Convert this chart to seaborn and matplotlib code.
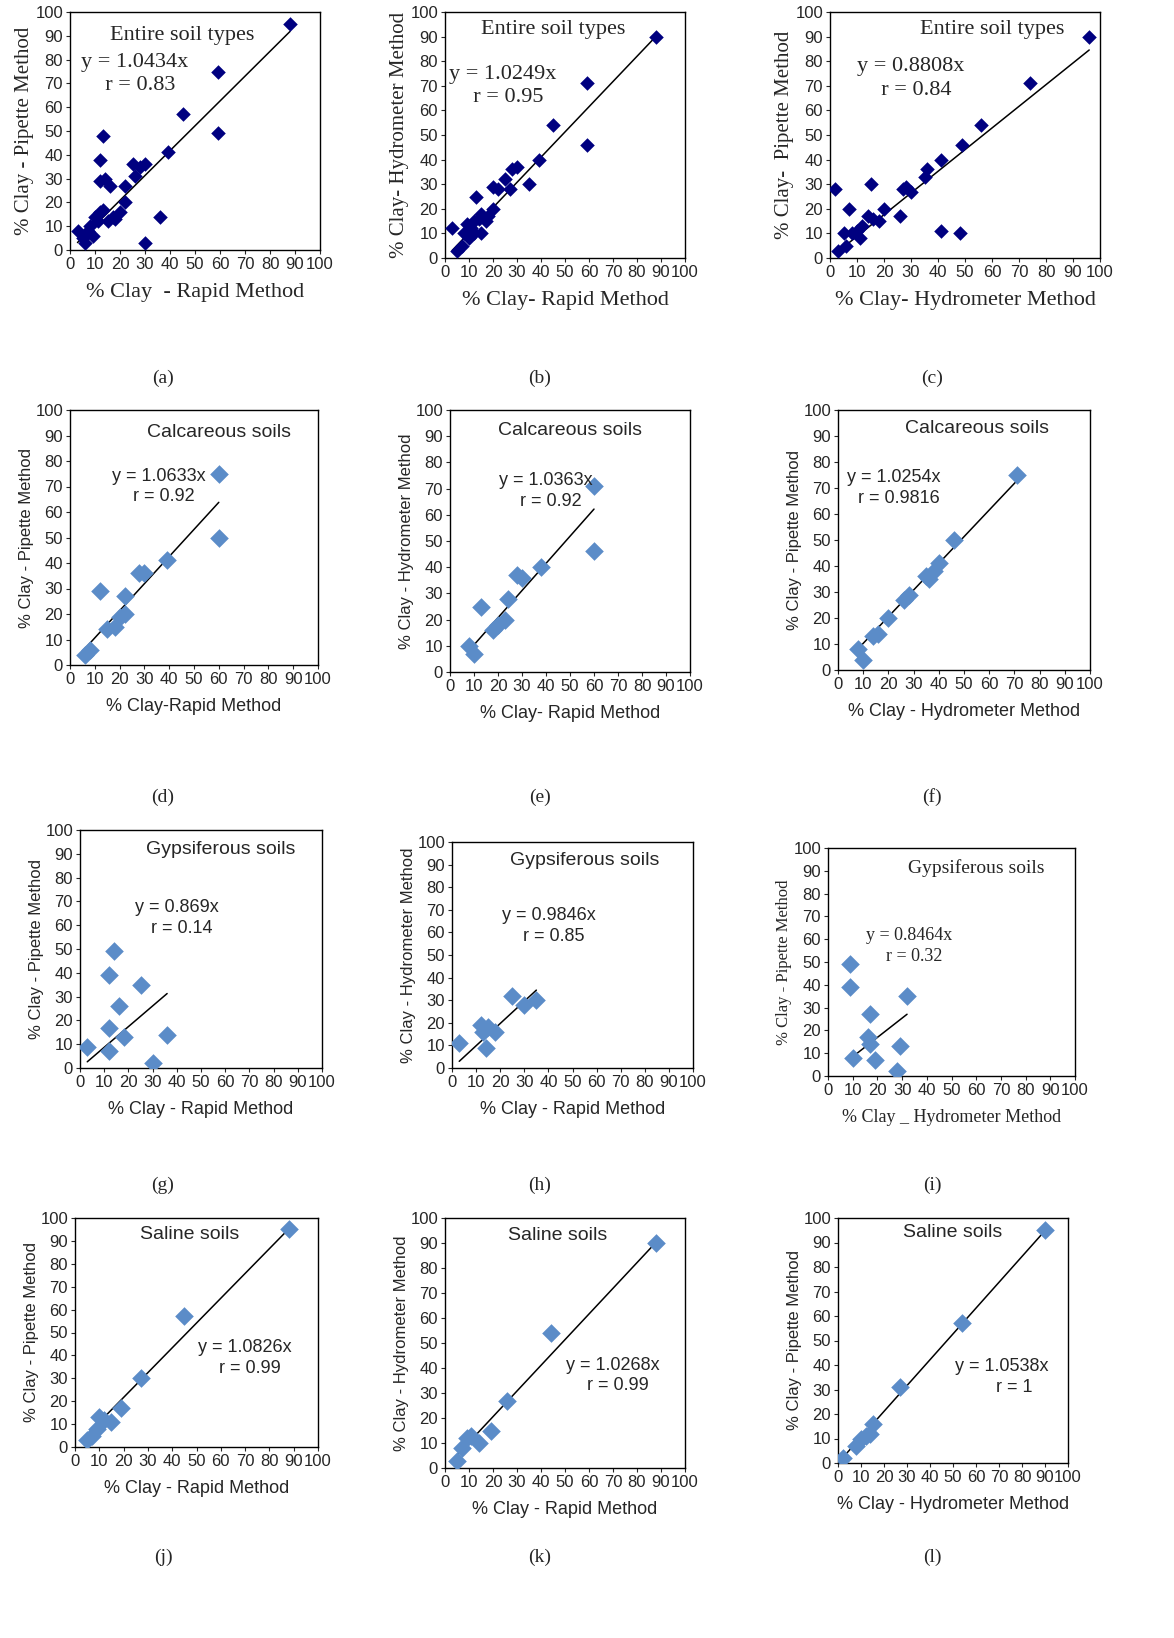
import numpy as np
import seaborn as sns
import matplotlib.pyplot as plt

sns.set_style("white")

# ---- data ----
x_a = [88, 59, 59, 45, 39, 36, 30, 30, 28, 25, 26, 22, 22, 20, 17, 16, 13, 12, 12, 13, 11, 10, 8, 7, 5, 3, 15, 18, 14, 9, 6, 12]
y_a = [95, 75, 49, 57, 41, 14, 3, 36, 35, 36, 31, 27, 20, 16, 14, 27, 48, 38, 29, 17, 12, 14, 10, 8, 5, 8, 12, 13, 30, 6, 3, 16]
x_b = [88, 59, 59, 45, 39, 35, 30, 28, 27, 25, 22, 20, 17, 15, 13, 12, 11, 10, 8, 7, 5, 3, 15, 18, 12, 9, 14, 20]
y_b = [90, 71, 46, 54, 40, 30, 37, 36, 28, 32, 28, 20, 15, 18, 25, 10, 12, 8, 10, 5, 3, 12, 10, 17, 15, 14, 16, 29]
x_c = [96, 74, 56, 49, 48, 41, 41, 36, 35, 30, 28, 27, 26, 20, 15, 16, 14, 12, 10, 8, 7, 5, 2, 3, 18, 11, 6]
y_c = [90, 71, 54, 46, 10, 40, 11, 36, 33, 27, 29, 28, 17, 20, 30, 16, 17, 13, 11, 10, 20, 10, 28, 3, 15, 8, 5]
x_d = [60, 60, 39, 30, 28, 22, 22, 18, 15, 12, 8, 6, 20]
y_d = [75, 50, 41, 36, 36, 27, 20, 15, 14, 29, 6, 4, 19]
x_e = [60, 60, 38, 30, 28, 24, 23, 18, 13, 10, 8, 20]
y_e = [71, 46, 40, 36, 37, 28, 20, 16, 25, 7, 10, 18]
x_f = [71, 46, 40, 38, 36, 28, 26, 20, 16, 14, 8, 10, 35]
y_f = [75, 50, 41, 38, 35, 29, 27, 20, 14, 13, 8, 4, 36]
x_g = [3, 12, 12, 12, 14, 16, 18, 25, 30, 36]
y_g = [9, 7, 17, 39, 49, 26, 13, 35, 2, 14]
x_h = [3, 12, 13, 14, 15, 18, 25, 30, 35]
y_h = [11, 19, 16, 9, 18, 16, 32, 28, 30]
x_i = [9, 9, 10, 16, 17, 17, 19, 29, 28, 32]
y_i = [49, 39, 8, 17, 27, 14, 7, 13, 2, 35]
x_j = [88, 45, 27, 19, 15, 10, 9, 7, 5, 12]
y_j = [95, 57, 30, 17, 11, 13, 8, 5, 3, 12]
x_k = [88, 44, 26, 19, 14, 11, 9, 7, 5]
y_k = [90, 54, 27, 15, 10, 13, 12, 8, 3]
x_l = [90, 54, 27, 15, 14, 10, 8, 2, 12]
y_l = [95, 57, 31, 16, 12, 10, 7, 2, 11]

slopes = [1.0434, 1.0249, 0.8808, 1.0633, 1.0363, 1.0254, 0.869, 0.9846, 0.8464, 1.0826, 1.0268, 1.0538]
eq_text = ["y = 1.0434x\n  r = 0.83", "y = 1.0249x\n  r = 0.95", "y = 0.8808x\n  r = 0.84",
           "y = 1.0633x\n  r = 0.92", "y = 1.0363x\n  r = 0.92", "y = 1.0254x\n  r = 0.9816",
           "y = 0.869x\n  r = 0.14", "y = 0.9846x\n  r = 0.85", "y = 0.8464x\n  r = 0.32",
           "y = 1.0826x\n  r = 0.99", "y = 1.0268x\n  r = 0.99", "y = 1.0538x\n     r = 1"]
titles = ["Entire soil types"] * 3 + ["Calcareous soils"] * 3 + ["Gypsiferous soils"] * 3 + ["Saline soils"] * 3
xlabels = ["% Clay  - Rapid Method", "% Clay- Rapid Method", "% Clay- Hydrometer Method",
           "% Clay-Rapid Method", "% Clay- Rapid Method", "% Clay - Hydrometer Method",
           "% Clay - Rapid Method", "% Clay - Rapid Method", "% Clay _ Hydrometer Method",
           "% Clay - Rapid Method", "% Clay - Rapid Method", "% Clay - Hydrometer Method"]
ylabels = ["% Clay - Pipette Method", "% Clay- Hydrometer Method", "% Clay-  Pipette Method",
           "% Clay - Pipette Method", "% Clay - Hydrometer Method", "% Clay - Pipette Method",
           "% Clay - Pipette Method", "% Clay - Hydrometer Method", "% Clay - Pipette Method",
           "% Clay - Pipette Method", "% Clay - Hydrometer Method", "% Clay - Pipette Method"]
letters = ["(a)", "(b)", "(c)", "(d)", "(e)", "(f)", "(g)", "(h)", "(i)", "(j)", "(k)", "(l)"]
xs = [x_a, x_b, x_c, x_d, x_e, x_f, x_g, x_h, x_i, x_j, x_k, x_l]
ys = [y_a, y_b, y_c, y_d, y_e, y_f, y_g, y_h, y_i, y_j, y_k, y_l]

# pixel boxes (x0, y0, x1, y1), title pos, eq pos, letter pos
boxes = [(70, 12, 320, 250), (445, 12, 685, 258), (830, 12, 1100, 258),
         (70, 410, 318, 665), (450, 410, 690, 672), (838, 410, 1090, 670),
         (80, 830, 322, 1068), (452, 842, 693, 1068), (828, 848, 1075, 1076),
         (75, 1218, 318, 1447), (445, 1218, 685, 1468), (838, 1218, 1068, 1463)]
title_pos = [(45, 90), (45, 93), (60, 93), (60, 91), (50, 92), (55, 93), (58, 92), (55, 92), (60, 91),
             (47, 93), (47, 93), (50, 94)]
eq_pos = [(26, 74), (24, 70), (30, 73), (36, 70), (40, 69), (22, 70), (40, 63), (40, 63), (33, 57),
          (70, 39), (70, 37), (71, 35)]
letter_x = [163, 540, 932, 163, 540, 932, 163, 540, 932, 163, 540, 932]
letter_y = [378, 378, 378, 797, 797, 797, 1185, 1185, 1185, 1557, 1557, 1557]
serif = [True, True, True, False, False, False, False, False, True, False, False, False]

W, H = 1174, 1638
fig = plt.figure(figsize=(W / 100, H / 100), dpi=100)

for i in range(12):
    x0, y0, x1, y1 = boxes[i]
    ax = fig.add_axes([x0 / W, 1 - y1 / H, (x1 - x0) / W, (y1 - y0) / H])
    color = "#000080" if i < 3 else "#5B8CC8"
    sns.scatterplot(x=xs[i], y=ys[i], ax=ax, marker="D", s=90 if i >= 3 else 55,
                    color=color, edgecolor=color, linewidth=0, zorder=3)
    xx = np.array([min(xs[i]), max(xs[i])])
    ax.plot(xx, slopes[i] * xx, color="black", lw=1.1, zorder=2)
    ax.set_xlim(0, 100)
    ax.set_ylim(0, 100)
    ax.set_xticks(range(0, 101, 10))
    ax.set_yticks(range(0, 101, 10))
    ax.set_xticklabels([str(v) for v in range(0, 90, 10)] + ["90", "100"])
    fam = ["Liberation Serif"] if serif[i] else ["Liberation Sans"]
    fs = 16 if serif[i] and i < 3 else 13
    for s in ax.spines.values():
        s.set_color("black")
        s.set_linewidth(1)
    ax.tick_params(labelsize=12, length=3, direction="out", left=True, bottom=True, pad=2)
    for lab in ax.get_xticklabels() + ax.get_yticklabels():
        lab.set_family("Liberation Sans")
    ax.set_xlabel(xlabels[i], fontsize=fs, family=fam, labelpad=8)
    ax.set_ylabel(ylabels[i], fontsize=fs - 1, family=fam, labelpad=1)
    ax.text(*title_pos[i], titles[i], ha="center", va="center", fontsize=fs + 1 if i >= 3 else 16,
            family=fam)
    ax.text(*eq_pos[i], eq_text[i], ha="center", va="center", fontsize=fs if i >= 3 else 16,
            family=fam, linespacing=1.3)
    fig.text(letter_x[i] / W, 1 - letter_y[i] / H, letters[i], ha="center", va="center",
             fontsize=14, family="Liberation Serif")

fig.savefig("out.png", dpi=100)
